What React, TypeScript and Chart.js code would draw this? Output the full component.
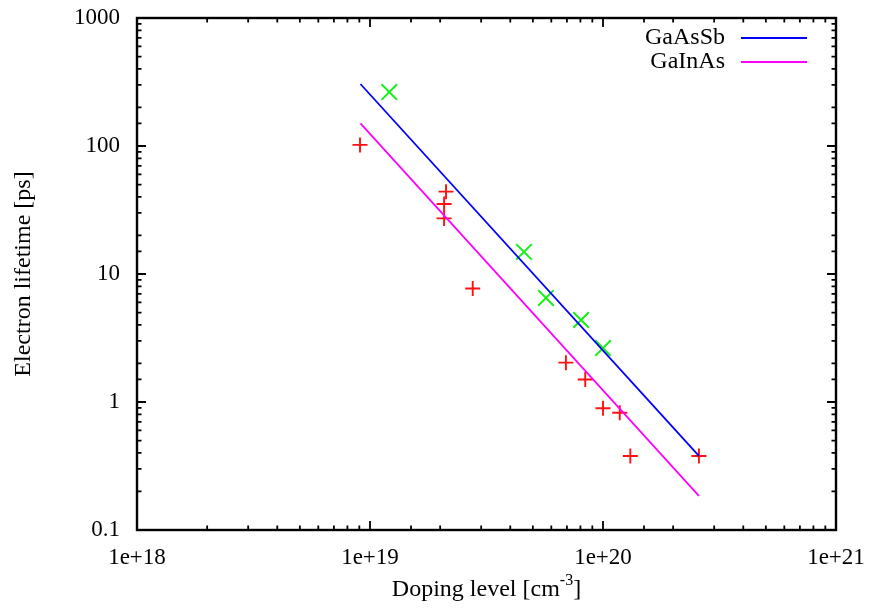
import React, { useEffect, useRef } from "react";
import { Chart, registerables } from "chart.js";

Chart.register(...registerables);

// ---- data ----
const gaAsSbDoping = [1.21e19, 4.58e19, 5.69e19, 8.05e19, 1.0e20];
const gaAsSbLifetime = [264, 14.9, 6.5, 4.37, 2.64];

const gaInAsDoping = [9.06e18, 2.12e19, 2.08e19, 2.08e19, 2.76e19, 6.93e19, 8.39e19, 1.0e20, 1.18e20, 1.31e20, 2.58e20];
const gaInAsLifetime = [102, 44, 35.2, 27.2, 7.7, 2.03, 1.5, 0.893, 0.825, 0.379, 0.379];

const fitDoping = [9.1e18, 2.58e20];
const gaAsSbFit = [305, 0.379];
const gaInAsFit = [150, 0.185];

const seriesNames = ["GaAsSb", "GaInAs"];
const xTitle = "Doping level [cm";
const xTitleSup = "-3";
const xTitleEnd = "]";
const yTitle = "Electron lifetime [ps]";

const FONT = "Liberation Serif, Times New Roman, serif";

const isPow10 = (v: number) => {
  const e = Math.log10(v);
  return Math.abs(e - Math.round(e)) < 1e-6;
};

const zip = (xs: number[], ys: number[]) => xs.map((x, i) => ({ x, y: ys[i] }));

const framePlugin = {
  id: "gnuplotFrame",
  afterDatasetsDraw(chart: any) {
    const { ctx, chartArea } = chart;
    const { left, right, top, bottom } = chartArea;
    const xs = chart.scales.x;
    const ys = chart.scales.y;
    ctx.save();
    ctx.strokeStyle = "#000";
    ctx.lineWidth = 1.8;
    // inward ticks on all four sides
    ctx.beginPath();
    xs.ticks.forEach((t: any) => {
      const px = xs.getPixelForValue(t.value);
      if (px < left - 0.5 || px > right + 0.5) return;
      const len = isPow10(t.value) ? 9 : 4.5;
      ctx.moveTo(px, bottom);
      ctx.lineTo(px, bottom - len);
      ctx.moveTo(px, top);
      ctx.lineTo(px, top + len);
    });
    ys.ticks.forEach((t: any) => {
      const py = ys.getPixelForValue(t.value);
      if (py < top - 0.5 || py > bottom + 0.5) return;
      const len = isPow10(t.value) ? 9 : 4.5;
      ctx.moveTo(left, py);
      ctx.lineTo(left + len, py);
      ctx.moveTo(right, py);
      ctx.lineTo(right - len, py);
    });
    ctx.stroke();
    // frame
    ctx.lineWidth = 2.4;
    ctx.strokeRect(left, top, right - left, bottom - top);

    // legend (fit lines only)
    ctx.font = `24px ${FONT}`;
    ctx.fillStyle = "#000";
    ctx.textAlign = "right";
    ctx.textBaseline = "middle";
    const lineSets = chart.data.datasets.filter((d: any) => d.isFit);
    lineSets.forEach((d: any, i: number) => {
      const y = 38 + i * 24;
      ctx.fillText(d.label, 725, y);
      ctx.strokeStyle = d.borderColor;
      ctx.lineWidth = 1.8;
      ctx.beginPath();
      ctx.moveTo(741, y);
      ctx.lineTo(807, y);
      ctx.stroke();
    });

    // axis titles
    const cx = (left + right) / 2;
    ctx.fillStyle = "#000";
    ctx.textBaseline = "alphabetic";
    ctx.textAlign = "left";
    ctx.font = `24px ${FONT}`;
    const w1 = ctx.measureText(xTitle).width;
    ctx.font = `16px ${FONT}`;
    const w2 = ctx.measureText(xTitleSup).width;
    ctx.font = `24px ${FONT}`;
    const w3 = ctx.measureText(xTitleEnd).width;
    const total = w1 + w2 + w3;
    let x0 = cx - total / 2;
    const base = 596;
    ctx.fillText(xTitle, x0, base);
    ctx.font = `16px ${FONT}`;
    ctx.fillText(xTitleSup, x0 + w1, base - 11);
    ctx.font = `24px ${FONT}`;
    ctx.fillText(xTitleEnd, x0 + w1 + w2, base);

    ctx.translate(30, (top + bottom) / 2);
    ctx.rotate(-Math.PI / 2);
    ctx.textAlign = "center";
    ctx.fillText(yTitle, 0, 0);
    ctx.restore();
  },
};

export default function App() {
  const ref = useRef<HTMLCanvasElement | null>(null);

  useEffect(() => {
    document.body.style.margin = "0";
    if (!ref.current) return;
    const chart = new Chart(ref.current, {
      type: "scatter",
      data: {
        datasets: [
          {
            type: "line",
            label: seriesNames[0],
            isFit: true,
            data: zip(fitDoping, gaAsSbFit),
            borderColor: "#0000ff",
            borderWidth: 1.8,
            pointRadius: 0,
            fill: false,
          } as any,
          {
            type: "line",
            label: seriesNames[1],
            isFit: true,
            data: zip(fitDoping, gaInAsFit),
            borderColor: "#ff00ff",
            borderWidth: 1.8,
            pointRadius: 0,
            fill: false,
          } as any,
          {
            label: seriesNames[0] + " data",
            data: zip(gaAsSbDoping, gaAsSbLifetime),
            pointStyle: "crossRot",
            pointRadius: 11,
            pointBorderWidth: 1.9,
            borderColor: "#11f011",
            backgroundColor: "#11f011",
          } as any,
          {
            label: seriesNames[1] + " data",
            data: zip(gaInAsDoping, gaInAsLifetime),
            pointStyle: "cross",
            pointRadius: 7.5,
            pointBorderWidth: 1.9,
            borderColor: "#ff1111",
            backgroundColor: "#ff1111",
          } as any,
        ],
      },
      options: {
        responsive: false,
        animation: false,
        layout: { padding: { left: 0, top: 18, right: 33, bottom: 0 } },
        plugins: {
          legend: { display: false },
          tooltip: { enabled: false },
        },
        scales: {
          x: {
            type: "logarithmic",
            min: 1e18,
            max: 1e21,
            grid: { display: false, drawTicks: false },
            border: { display: false },
            afterFit: (s: any) => {
              s.height = 79;
              s.paddingLeft = 0;
              s.paddingRight = 0;
            },
            ticks: {
              autoSkip: false,
              maxRotation: 0,
              padding: 14,
              color: "#000",
              font: { family: FONT, size: 23 },
              callback: (v: any) => {
                const n = Number(v);
                return isPow10(n) ? `1e+${Math.round(Math.log10(n))}` : "";
              },
            },
          },
          y: {
            type: "logarithmic",
            min: 0.1,
            max: 1000,
            grid: { display: false, drawTicks: false },
            border: { display: false },
            afterFit: (s: any) => {
              s.width = 137;
              s.paddingTop = 0;
              s.paddingBottom = 0;
            },
            ticks: {
              autoSkip: false,
              padding: 17,
              color: "#000",
              font: { family: FONT, size: 23 },
              callback: (v: any) => {
                const n = Number(v);
                if (!isPow10(n)) return "";
                return n < 1 ? "0.1" : String(Math.round(n));
              },
            },
          },
        },
      },
      plugins: [framePlugin],
    });
    return () => chart.destroy();
  }, []);

  return (
    <div style={{ width: 869, height: 609, background: "#fff" }}>
      <canvas ref={ref} width={869} height={609} style={{ display: "block" }} />
    </div>
  );
}
